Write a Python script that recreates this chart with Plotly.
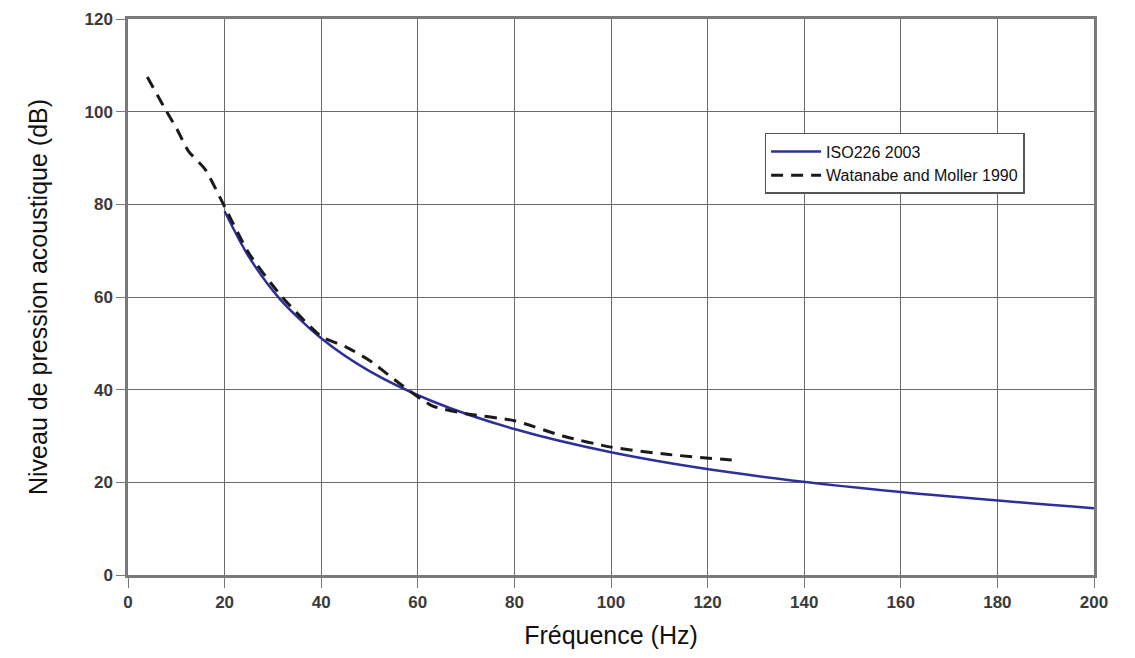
import plotly.graph_objects as go

# ISO 226:2003 hearing threshold
iso_freq = [20, 25, 31.5, 40, 50, 63, 80, 100, 125, 160, 200]
iso_db = [78.5, 68.7, 59.5, 51.1, 44.0, 37.5, 31.5, 26.5, 22.1, 17.9, 14.4]

# Watanabe and Moller 1990
wm_freq = [4, 8, 10, 12.5, 16, 20, 25, 31.5, 40, 45, 50, 56, 63, 70, 80, 90, 100, 112, 125]
wm_db = [107.5, 100, 96.5, 91.5, 87.5, 79.5, 69.5, 60.5, 51.5, 49.3, 46.3, 41.5, 36.5, 34.8, 33.3, 30.0, 27.6, 26.0, 24.8]

x_ticks = list(range(0, 201, 20))
y_ticks = list(range(0, 121, 20))

FONT = "Liberation Sans, Arial, sans-serif"

fig = go.Figure()
fig.add_trace(go.Scatter(
    x=iso_freq, y=iso_db, mode="lines", name="ISO226 2003",
    line=dict(color="#2f2f9c", width=2.5, shape="spline", smoothing=0.8),
))
fig.add_trace(go.Scatter(
    x=wm_freq, y=wm_db, mode="lines", name="Watanabe and Moller 1990",
    line=dict(color="#1a1a1a", width=3, dash="12px,8px", shape="spline", smoothing=0.6),
))

# the page body adds an 8px offset; margins compensate for it
fig.update_layout(
    width=1135, height=658,
    margin=dict(l=120, r=49, t=11, b=91, autoexpand=False),
    paper_bgcolor="white", plot_bgcolor="white",
    font=dict(family=FONT, color="#111111"),
    showlegend=True,
    legend=dict(
        x=0.659, y=0.795, xanchor="left", yanchor="top",
        bgcolor="white", bordercolor="#555555", borderwidth=1.5,
        font=dict(family=FONT, size=16, color="#111111"),
        tracegroupgap=0, itemwidth=50,
    ),
)
fig.update_xaxes(
    range=[0, 200], tickvals=x_ticks, ticktext=[str(v) for v in x_ticks],
    automargin=False,
    showgrid=True, gridcolor="#6a6a6a", gridwidth=1.3,
    showline=True, linecolor="#7a7a7a", linewidth=2.5, mirror=True,
    ticks="outside", ticklen=10, tickcolor="#7a7a7a", tickwidth=1.3,
    tickfont=dict(family=FONT, size=17, color="#3a3a3a", weight="bold"),
    title=dict(text="Fréquence (Hz)", font=dict(family=FONT, size=25, color="#111111"), standoff=16),
    zeroline=False,
)
fig.update_yaxes(
    range=[0, 120], tickvals=y_ticks, ticktext=[str(v) for v in y_ticks],
    automargin=False,
    showgrid=True, gridcolor="#6a6a6a", gridwidth=1.3,
    showline=True, linecolor="#7a7a7a", linewidth=2.5, mirror=True,
    ticks="outside", ticklen=9, tickcolor="#7a7a7a", tickwidth=1.3,
    tickfont=dict(family=FONT, size=17, color="#3a3a3a", weight="bold"),
    title=dict(text="Niveau de pression acoustique (dB)", font=dict(family=FONT, size=25, color="#111111"), standoff=30),
    zeroline=False,
)

fig.write_html("out.html")
